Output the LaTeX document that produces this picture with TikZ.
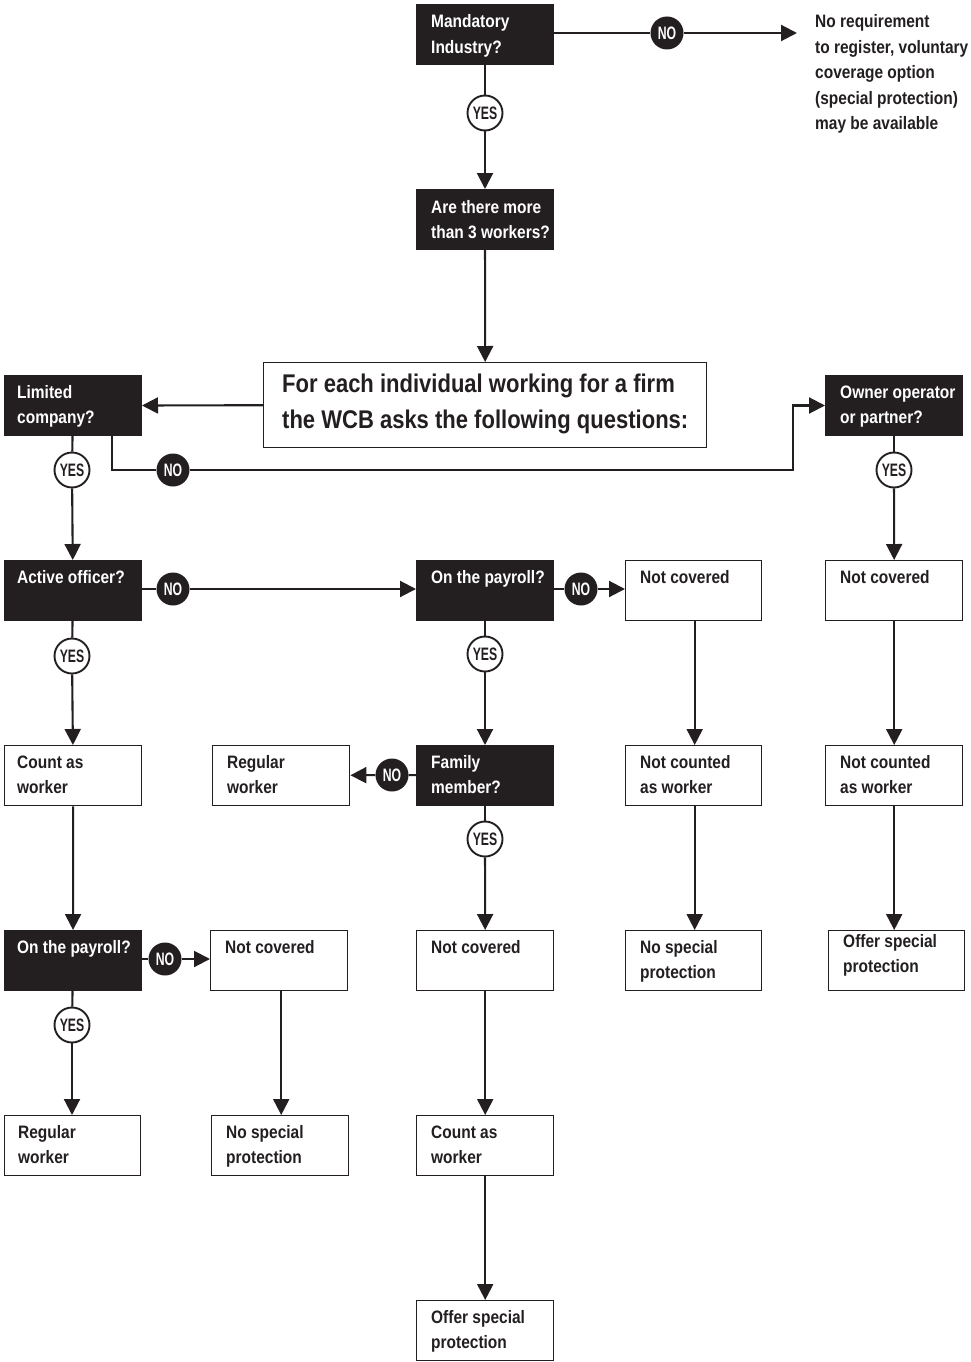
\documentclass[tikz,border=0pt]{standalone}
\usepackage{fontspec}
\setmainfont{Liberation Sans}[FakeStretch=0.86]
\newfontfamily\tagfont{Liberation Sans}[FakeStretch=0.68]
\usetikzlibrary{arrows.meta}
\definecolor{ink}{HTML}{231F20}

\begin{document}
\begin{tikzpicture}[x=1pt,y=-1pt,
  box/.style={rectangle, anchor=north west, inner sep=0pt,
    minimum width=137pt, minimum height=60pt},
  dark/.style={box, draw=ink, fill=ink, line width=1pt},
  light/.style={box, draw=ink, fill=white, line width=1.4pt},
  lbl/.style={anchor=base west, inner sep=0pt, align=left,
    font=\fontsize{18}{25.5}\selectfont\bfseries},
  lbw/.style={lbl, text=white},
  lbk/.style={lbl, text=ink},
  yes/.style={circle, draw=ink, fill=white, line width=1.9pt,
    minimum size=35pt, inner sep=0pt, text=ink,
    font=\tagfont\fontsize{18}{18}\selectfont\bfseries},
  no/.style={circle, fill=ink, minimum size=33pt, inner sep=0pt,
    text=white, font=\tagfont\fontsize{18}{18}\selectfont\bfseries},
  flow/.style={draw=ink, line width=2.1pt},
  arr/.style={flow, -{Triangle[length=16pt,width=16pt]}}]

\useasboundingbox (0,0) rectangle (970,1362);

% question and outcome boxes
\node[dark]  (mand) at (416,4)    {};
\node[dark]  (are)  at (416,189)  {};
\node[light, minimum width=443pt, minimum height=85pt] (big) at (263,362) {};
\node[dark]  (lim)  at (4,375)    {};
\node[dark]  (own)  at (825,375)  {};
\node[dark]  (act)  at (4,560)    {};
\node[dark]  (pay1) at (416,560)  {};
\node[light, minimum width=136pt] (nc1) at (625,560) {};
\node[light] (nc2)  at (825,560)  {};
\node[light] (cnt1) at (4,745)    {};
\node[light] (reg1) at (212,745)  {};
\node[dark]  (fam)  at (416,745)  {};
\node[light, minimum width=136pt] (nca1) at (625,745) {};
\node[light] (nca2) at (825,745)  {};
\node[dark]  (pay2) at (4,930)    {};
\node[light] (nc3)  at (210,930)  {};
\node[light] (nc4)  at (416,930)  {};
\node[light, minimum width=136pt] (nsp1) at (625,930) {};
\node[light, minimum width=136pt] (osp1) at (828,930) {};
\node[light, minimum width=136pt] (reg2) at (4,1115) {};
\node[light] (nsp2) at (211,1115) {};
\node[light] (cnt2) at (416,1115) {};
\node[light] (osp2) at (416,1300) {};

% box texts (anchored at the baseline of their last line)
\node[lbw] (mand-t) at (431,53.5)   {Mandatory\\Industry?};
\node[lbw] (are-t)  at (431,238.5)  {Are there more\\than 3 workers?};
\node[lbk, font=\fontsize{25.6}{36}\selectfont\bfseries] (big-t) at (282,428)
  {For each individual working for a firm\\the WCB asks the following questions:};
\node[lbw] (lim-t)  at (17,423.5)   {Limited\\company?};
\node[lbw] (own-t)  at (840,423.5)  {Owner operator\\or partner?};
\node[lbw] (act-t)  at (17,583)     {Active officer?};
\node[lbw] (pay1-t) at (431,583)    {On the payroll?};
\node[lbk] (nc1-t)  at (640,583)    {Not covered};
\node[lbk] (nc2-t)  at (840,583)    {Not covered};
\node[lbk] (cnt1-t) at (17,793.5)   {Count as\\worker};
\node[lbk] (reg1-t) at (227,793.5)  {Regular\\worker};
\node[lbw] (fam-t)  at (431,793.5)  {Family\\member?};
\node[lbk] (nca1-t) at (640,793.5)  {Not counted\\as worker};
\node[lbk] (nca2-t) at (840,793.5)  {Not counted\\as worker};
\node[lbw] (pay2-t) at (17,953)     {On the payroll?};
\node[lbk] (nc3-t)  at (225,953)    {Not covered};
\node[lbk] (nc4-t)  at (431,953)    {Not covered};
\node[lbk] (nsp1-t) at (640,978.5)  {No special\\protection};
\node[lbk] (osp1-t) at (843,972.5)  {Offer special\\protection};
\node[lbk] (reg2-t) at (18,1163.5)  {Regular\\worker};
\node[lbk] (nsp2-t) at (226,1163.5) {No special\\protection};
\node[lbk] (cnt2-t) at (431,1163.5) {Count as\\worker};
\node[lbk] (osp2-t) at (431,1348.5) {Offer special\\protection};

% free-standing outcome
\node[lbk] (noreq-t) at (815,130) {No requirement\\to register, voluntary\\coverage option\\(special protection)\\may be available};
\coordinate (noreq) at (797,33);
\coordinate (turn) at (793,470);

% yes / no markers
\node[no]  (no1)  at (667,33)   {NO};
\node[yes] (yes1) at (485,113)  {YES};
\node[yes] (yes2) at (72,470)   {YES};
\node[no]  (no2)  at (173,470)  {NO};
\node[yes] (yes3) at (894,470)  {YES};
\node[no]  (no3)  at (173,589)  {NO};
\node[no]  (no4)  at (581,589)  {NO};
\node[yes] (yes4) at (72,656)   {YES};
\node[yes] (yes5) at (485,654)  {YES};
\node[no]  (no5)  at (392,775)  {NO};
\node[yes] (yes6) at (485,839)  {YES};
\node[no]  (no6)  at (165,959)  {NO};
\node[yes] (yes7) at (72,1025)  {YES};

% connectors
\draw[flow] (mand.east |- no1) -- (no1);
\draw[arr]  (no1) -- (noreq);
\draw[flow] (mand) -- (yes1);
\draw[arr]  (yes1) -- (are);
\draw[arr]  (are) -- (big);
\draw[arr]  (big.west) -- (lim.east);
\draw[flow] ([xshift=-30pt]lim.south east) |- (no2);
\draw[arr]  (no2) -- (turn) |- (own.west);
\draw[flow] (lim) -- (yes2);
\draw[arr]  (yes2) -- (act);
\draw[flow] (own) -- (yes3);
\draw[arr]  (yes3) -- (nc2);
\draw[flow] (act.east |- no3) -- (no3);
\draw[arr]  (no3) -- (pay1.west |- no3);
\draw[flow] (pay1.east |- no4) -- (no4);
\draw[arr]  (no4) -- (nc1.west |- no4);
\draw[flow] (act) -- (yes4);
\draw[arr]  (yes4) -- (cnt1);
\draw[flow] (pay1) -- (yes5);
\draw[arr]  (yes5) -- (fam);
\draw[arr]  ([xshift=1pt]nc1.south) -- ([xshift=1pt]nca1.north);
\draw[arr]  (nc2) -- (nca2);
\draw[flow] (fam) -- (no5);
\draw[arr]  (no5) -- (reg1);
\draw[flow] (fam) -- (yes6);
\draw[arr]  (yes6) -- (nc4);
\draw[arr]  (cnt1) -- (pay2);
\draw[arr]  ([xshift=1pt]nca1.south) -- ([xshift=1pt]nsp1.north);
\draw[arr]  (nca2.south) -- (nca2.south |- osp1.north);
\draw[flow] (pay2.east |- no6) -- (no6);
\draw[arr]  (no6) -- (nc3.west |- no6);
\draw[flow] (pay2) -- (yes7);
\draw[arr]  (yes7) -- (yes7 |- reg2.north);
\draw[arr]  ([xshift=2pt]nc3.south) -- ([xshift=2pt]nc3.south |- nsp2.north);
\draw[arr]  (nc4) -- (cnt2);
\draw[arr]  (cnt2) -- (osp2);
\end{tikzpicture}
\end{document}
